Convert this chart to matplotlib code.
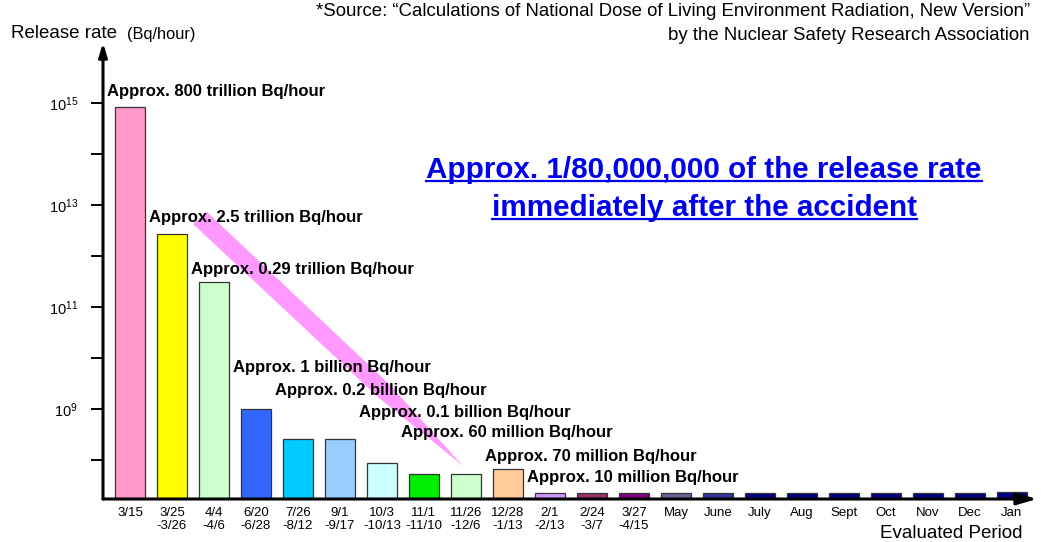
import matplotlib
matplotlib.use('Agg')
import matplotlib.pyplot as plt
from matplotlib.patches import Polygon
from matplotlib.lines import Line2D
from matplotlib.ticker import NullLocator
import numpy as np

plt.rcParams['font.family'] = ['Liberation Sans', 'DejaVu Sans']
plt.rcParams['mathtext.fontset'] = 'custom'
plt.rcParams['mathtext.rm'] = 'Liberation Sans'

# data
periods = ['3/15', '3/25\n-3/26', '4/4\n-4/6', '6/20\n-6/28', '7/26\n-8/12', '9/1\n-9/17',
           '10/3\n-10/13', '11/1\n-11/10', '11/26\n-12/6', '12/28\n-1/13', '2/1\n-2/13',
           '2/24\n-3/7', '3/27\n-4/15', 'May', 'June', 'July', 'Aug', 'Sept', 'Oct', 'Nov',
           'Dec', 'Jan']
release = [8.3e14, 2.7e12, 3.1e11, 1.0e9, 2.6e8, 2.6e8, 8.7e7, 5.4e7, 5.4e7, 6.6e7,
           2.25e7, 2.25e7, 2.25e7, 2.25e7, 2.25e7, 2.25e7, 2.25e7, 2.25e7, 2.25e7,
           2.25e7, 2.25e7, 2.35e7]
bar_colors = ['#FF99CC', '#FFFF00', '#CCFFCC', '#3366FF', '#00CCFF', '#99CCFF', '#CCFFFF',
              '#00EE00', '#CCFFCC', '#FFCC99', '#CC99FF', '#993366', '#800080', '#666699',
              '#333399', '#000080', '#000080', '#000080', '#000080', '#000080', '#000080',
              '#000080']
notes = ['Approx. 800 trillion Bq/hour', 'Approx. 2.5 trillion Bq/hour',
         'Approx. 0.29 trillion Bq/hour', 'Approx. 1 billion Bq/hour',
         'Approx. 0.2 billion Bq/hour', 'Approx. 0.1 billion Bq/hour',
         'Approx. 60 million Bq/hour', 'Approx. 70 million Bq/hour',
         'Approx. 10 million Bq/hour']
note_bars = [0, 1, 2, 3, 4, 6, 7, 9, 10]
note_exp = [15.22, 12.75, 11.73, 9.82, 9.37, 8.94, 8.53, 8.06, 7.65]  # label heights, log10

W, H = 1041, 542
fig = plt.figure(figsize=(W / 100, H / 100), dpi=100)
ax = fig.add_axes([103 / W, 1 - 499 / H, (1037 - 103) / W, (499 - 43) / H])

ymin, ymax = 10 ** 7.235, 10 ** 16.18
x = np.arange(len(periods))
ax.set_yscale('log')
ax.bar(x, np.array(release) - ymin, bottom=ymin, width=0.72, color=bar_colors,
       edgecolor='#333333', linewidth=0.9, zorder=2)
ax.set_ylim(ymin, ymax)
ax.set_xlim(-0.643, 21.6)

for s in ax.spines.values():
    s.set_visible(False)

exps = list(range(8, 16))
ax.set_yticks([10.0 ** e for e in exps])
ax.set_yticklabels([r'$\mathregular{10^{%d}}$' % e if e % 2 else '' for e in exps],
                   fontsize=10.5)
ax.yaxis.set_minor_locator(NullLocator())
ax.tick_params(axis='y', length=9, width=1.4, pad=9)
ax.set_xticks(x)
ax.set_xticklabels(periods, fontsize=9.5, linespacing=1.1, va='top')
ax.tick_params(axis='x', length=0, pad=6)

# axis arrows
ax.annotate('', xy=(1, 0), xytext=(0, 0), xycoords='axes fraction',
            arrowprops=dict(arrowstyle='-|>,head_length=1.2,head_width=0.35',
                            lw=2.2, color='black', shrinkA=0, shrinkB=0), zorder=5)
ax.annotate('', xy=(0, 1), xytext=(0, 0), xycoords='axes fraction',
            arrowprops=dict(arrowstyle='-|>,head_length=0.8,head_width=0.25',
                            lw=2.2, color='black', shrinkA=0, shrinkB=0), zorder=5)

# pink trend band (pixel coords of the reference), behind the labels
band = [(193, 224), (207, 212), (390, 385), (463, 466), (378, 397)]
ax.add_patch(Polygon([(px / W, 1 - py / H) for px, py in band], closed=True,
                     transform=fig.transFigure, facecolor='#FF99FF',
                     edgecolor='none', zorder=1, clip_on=False))

for txt, b, e in zip(notes, note_bars, note_exp):
    ax.text(b - 0.54, 10 ** e, txt, fontsize=12, fontweight='bold', ha='left',
            va='center', zorder=6, clip_on=False)

fig.text(11 / W, 1 - 33 / H, 'Release rate', fontsize=13.5, va='center')
fig.text(127 / W, 1 - 35 / H, '(Bq/hour)', fontsize=11.8, va='center')
fig.text(1023 / W, 1 - 533 / H, 'Evaluated Period', fontsize=13.5, ha='right', va='center')
fig.text(1030 / W, 1 - 12 / H,
         '*Source: \u201cCalculations of National Dose of Living Environment Radiation, New Version\u201d',
         fontsize=13.4, ha='right', va='center')
fig.text(1030 / W, 1 - 36 / H, 'by the Nuclear Safety Research Association',
         fontsize=13.4, ha='right', va='center')

heads = []
for line, base in [('Approx. 1/80,000,000 of the release rate', 178),
                   ('immediately after the accident', 216)]:
    t = fig.text(704 / W, 1 - base / H, line, fontsize=21.3, fontweight='bold',
                 color='#0000EE', ha='center', va='baseline')
    heads.append((t, base))

fig.canvas.draw()
r = fig.canvas.get_renderer()
for t, base in heads:
    bb = t.get_window_extent(r)
    yy = 1 - (base + 2.5) / H
    fig.add_artist(Line2D([bb.x0 / W, bb.x1 / W], [yy, yy], transform=fig.transFigure,
                          color='#0000EE', lw=1.6))

fig.savefig('out.png', dpi=100)
